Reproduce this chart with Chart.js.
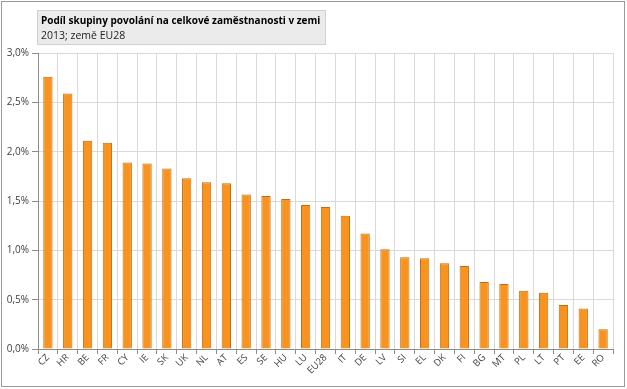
<!DOCTYPE html>
<html>
<head>
<meta charset="utf-8">
<script src="https://cdn.jsdelivr.net/npm/chart.js@4/dist/chart.umd.min.js"></script>
<style>
  html, body { margin: 0; padding: 0; background: #fff; }
  #wrap { width: 627px; height: 389px; position: relative; }
</style>
</head>
<body>
<div id="wrap"><canvas id="chart"></canvas></div>
<script>
const countries = ['CZ','HR','BE','FR','CY','IE','SK','UK','NL','AT','ES','SE','HU','LU','EU28',
  'IT','DE','LV','SI','EL','DK','FI','BG','MT','PL','LT','PT','EE','RO'];
const shares = [2.76, 2.59, 2.11, 2.09, 1.89, 1.88, 1.83, 1.73, 1.69, 1.68, 1.565, 1.55, 1.52, 1.46, 1.44,
  1.35, 1.17, 1.01, 0.93, 0.92, 0.87, 0.84, 0.68, 0.66, 0.59, 0.57, 0.445, 0.41, 0.20];
const titleLines = ['Podíl skupiny povolání na celkové zaměstnanosti v zemi', '2013; země EU28'];

const FONT = "'Open Sans', 'DejaVu Sans', sans-serif";

// frame round the whole picture and the grey title box
const decor = {
  id: 'decor',
  afterDraw(chart) {
    const c = chart.ctx;
    c.save();
    c.strokeStyle = '#9a9a9a';
    c.lineWidth = 1;
    c.strokeRect(1.5, 1.5, 623, 385);

    c.fillStyle = '#ebebeb';
    c.fillRect(37, 10, 289, 35);
    c.strokeStyle = '#cfcfcf';
    c.strokeRect(37.5, 10.5, 288, 34);

    c.fillStyle = '#000';
    c.textBaseline = 'middle';
    c.font = 'bold 10px ' + FONT;
    c.fillText(titleLines[0], 41, 21);
    c.font = '10.5px ' + FONT;
    c.fillStyle = '#222';
    c.fillText(titleLines[1], 41, 36);
    c.restore();
  }
};

new Chart(document.getElementById('chart'), {
  type: 'bar',
  data: {
    labels: countries,
    datasets: [{
      data: shares,
      backgroundColor: '#f7931e',
      borderColor: '#c46c12',
      borderWidth: 1,
      categoryPercentage: 1,
      barPercentage: 0.47
    }]
  },
  options: {
    responsive: true,
    maintainAspectRatio: false,
    animation: false,
    layout: { padding: { left: 0, right: 14, top: 53, bottom: 0 } },
    plugins: { legend: { display: false }, tooltip: { enabled: false } },
    scales: {
      x: {
        afterFit(s) { s.height = 40; },
        grid: { offset: true, color: '#dadada', tickLength: 5, tickColor: '#8c8c8c' },
        border: { color: '#8c8c8c' },
        ticks: {
          autoSkip: false, minRotation: 45, maxRotation: 45, padding: -2,
          color: '#404040', font: { family: FONT, size: 9.5 }
        }
      },
      y: {
        min: 0, max: 3,
        afterFit(s) { s.width = 38; },
        grid: { color: '#dadada', tickLength: 6, tickColor: '#8c8c8c' },
        border: { color: '#8c8c8c' },
        ticks: {
          stepSize: 0.5, padding: 3,
          color: '#404040', font: { family: FONT, size: 10 },
          callback: v => v.toFixed(1).replace('.', ',') + '%'
        }
      }
    }
  },
  plugins: [decor]
});
</script>
</body>
</html>
